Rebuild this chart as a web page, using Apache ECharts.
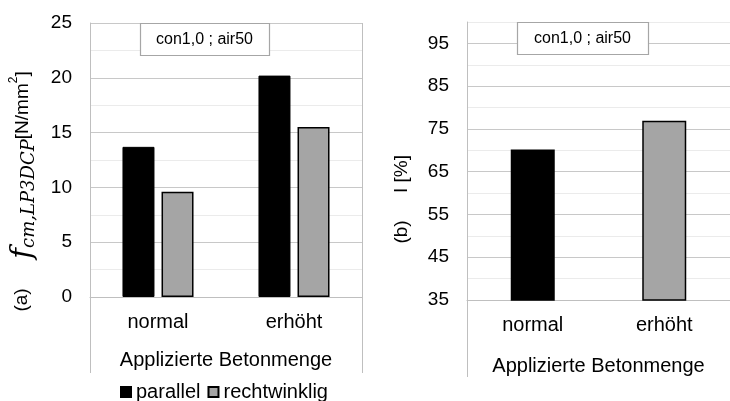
<!DOCTYPE html>
<html>
<head>
<meta charset="utf-8">
<script src="https://cdn.jsdelivr.net/npm/echarts@6/dist/echarts.min.js"></script>
<style>
html, body { margin: 0; padding: 0; background: #fff; }
#chart { width: 730px; height: 401px; }
</style>
</head>
<body>
<div id="chart"></div>
<script>
// Daten
var categories = ['normal', 'erhöht'];
var seriesNames = ['parallel', 'rechtwinklig'];
var fcmParallel = [13.7, 20.2];
var fcmRechtwinklig = [9.6, 15.5];
var iValues = [70.2, 76.9];
var leftTicks = [0, 5, 10, 15, 20, 25];
var rightTicks = [35, 45, 55, 65, 75, 85, 95];
var noteText = 'con1,0 ; air50';
var xName = 'Applizierte Betonmenge';

var font = '"Liberation Sans", Arial, sans-serif';
var serif = '"DejaVu Serif", "Liberation Serif", serif';
var txt = '#000';
var frame = '#bfbfbf';
var grey = '#a5a5a5';
var iColors = ['#000', grey];

var g1 = {left: 90, top: 23, width: 272, height: 274};
var g2 = {left: 467, top: 22, width: 276, height: 278};

var chart = echarts.init(document.getElementById('chart'));

function yAxisOpt(idx, min, max, step, ticks) {
    return {
        gridIndex: idx,
        type: 'value',
        min: min,
        max: max,
        interval: step,
        axisLine: {show: true, lineStyle: {color: frame, width: 1}},
        axisTick: {show: false},
        axisLabel: {
            margin: 18,
            fontSize: 19,
            fontFamily: font,
            color: txt,
            formatter: function (v) {
                return ticks.indexOf(v) >= 0 ? String(v) : '';
            }
        },
        splitLine: {lineStyle: {color: ['#c8c8c8', '#ebebeb'], width: 1}}
    };
}

function xAxisOpt(idx, gap) {
    return {
        gridIndex: idx,
        type: 'category',
        data: categories,
        axisLine: {lineStyle: {color: frame, width: 1}},
        axisTick: {show: false},
        axisLabel: {margin: 15, fontSize: 20, fontFamily: font, color: txt},
        name: xName,
        nameLocation: 'middle',
        nameGap: gap,
        nameTextStyle: {fontSize: 20, fontFamily: font, color: txt}
    };
}

function vline(x, y1, y2) {
    return {
        type: 'line', z: 50,
        shape: {x1: x + 0.5, y1: y1, x2: x + 0.5, y2: y2},
        style: {stroke: frame, lineWidth: 1}
    };
}

function note(x, y, w, h) {
    return {
        type: 'group', z: 60,
        children: [{
            type: 'rect', z: 60,
            shape: {x: x + 0.5, y: y + 0.5, width: w, height: h},
            style: {fill: '#fff', stroke: '#a6a6a6', lineWidth: 1.2}
        }, {
            type: 'text', z: 61,
            x: x + w / 2, y: y + h / 2 + 1,
            style: {text: noteText, fontSize: 16, fontFamily: font, fill: txt,
                    align: 'center', verticalAlign: 'middle'}
        }]
    };
}

function vtext(x, y, text, extra) {
    var st = {text: text, fontSize: 19, fontFamily: font, fill: txt,
              align: 'center', verticalAlign: 'middle'};
    if (extra) { st.rich = extra; }
    return {type: 'text', z: 60, x: x, y: y, rotation: Math.PI / 2, style: st};
}

var option = {
    animation: false,
    backgroundColor: '#fff',
    grid: [
        {left: g1.left, top: g1.top, width: g1.width, height: g1.height},
        {left: g2.left, top: g2.top, width: g2.width, height: g2.height}
    ],
    legend: {
        data: seriesNames,
        left: 115,
        top: 377,
        icon: 'rect',
        itemWidth: 10,
        itemHeight: 10,
        itemGap: 7,
        textStyle: {fontSize: 20, fontFamily: font, color: txt}
    },
    xAxis: [xAxisOpt(0, 53), xAxisOpt(1, 56)],
    yAxis: [
        yAxisOpt(0, 0, 25, 2.5, leftTicks),
        yAxisOpt(1, 35, 100, 5, rightTicks)
    ],
    series: [{
        name: seriesNames[0],
        type: 'bar',
        xAxisIndex: 0, yAxisIndex: 0,
        barWidth: 32,
        barGap: '22%',
        itemStyle: {color: '#000', borderColor: '#000', borderWidth: 1},
        data: fcmParallel
    }, {
        name: seriesNames[1],
        type: 'bar',
        xAxisIndex: 0, yAxisIndex: 0,
        barWidth: 32,
        barGap: '22%',
        itemStyle: {color: grey, borderColor: '#000', borderWidth: 1.5},
        data: fcmRechtwinklig
    }, {
        name: 'I',
        type: 'bar',
        xAxisIndex: 1, yAxisIndex: 1,
        barWidth: 44,
        itemStyle: {
            color: function (p) { return iColors[p.dataIndex]; },
            borderColor: '#000',
            borderWidth: 1.5
        },
        data: iValues
    }],
    graphic: [
        vline(g1.left, g1.top, 373),
        vline(g1.left + g1.width, g1.top, 373),
        vline(g2.left, g2.top, 377),
        note(140, 23, 129, 32),
        note(517, 22, 131, 32),
        vtext(23, 165, '{f|f}{s|cm,LP3DCP}{u|[N/mm}{p|2}{u|]}', {
            f: {fontFamily: serif, fontStyle: 'italic', fontSize: 29, lineHeight: 30, verticalAlign: 'middle'},
            s: {fontFamily: serif, fontStyle: 'italic', fontSize: 18, lineHeight: 26, verticalAlign: 'bottom'},
            u: {fontFamily: font, fontSize: 19, lineHeight: 30, verticalAlign: 'middle'},
            p: {fontFamily: font, fontSize: 12, lineHeight: 22, verticalAlign: 'top'}
        }),
        vtext(22, 300, '(a)'),
        vtext(402, 174, 'I [%]'),
        vtext(402, 232, '(b)')
    ]
};

chart.setOption(option);
</script>
</body>
</html>
